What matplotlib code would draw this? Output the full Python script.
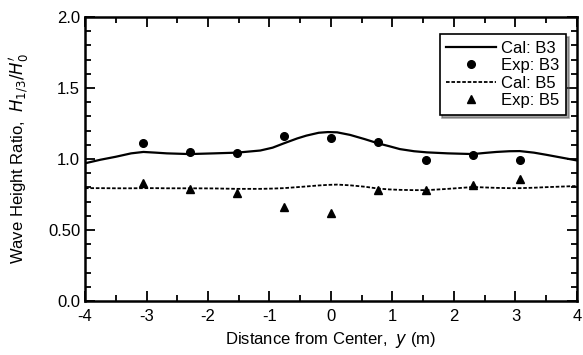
import numpy as np
import matplotlib.pyplot as plt
from matplotlib.ticker import MultipleLocator

plt.rcParams['font.family'] = ['Liberation Sans', 'DejaVu Sans']

# measured points
exp_y = [-3.05, -2.3, -1.53, -0.77, 0.0, 0.76, 1.54, 2.31, 3.07]
exp_b3 = [1.11, 1.05, 1.04, 1.16, 1.15, 1.12, 0.99, 1.03, 0.99]
exp_b5 = [0.83, 0.79, 0.76, 0.66, 0.62, 0.78, 0.78, 0.82, 0.86]

# calculated curves
cal_y = [-4.0, -3.75, -3.5, -3.25, -3.05, -2.85, -2.67, -2.3, -1.9, -1.53, -1.15,
         -0.95, -0.77, -0.55, -0.4, -0.2, -0.05, 0.1, 0.31, 0.55, 0.77, 0.95,
         1.12, 1.35, 1.56, 1.9, 2.31, 2.5, 2.69, 2.9, 3.07, 3.3, 3.5, 3.75, 4.0]
cal_b3 = [0.97, 0.995, 1.016, 1.04, 1.05, 1.045, 1.04, 1.035, 1.04, 1.045, 1.06,
          1.08, 1.11, 1.145, 1.165, 1.185, 1.19, 1.188, 1.17, 1.14, 1.11, 1.09,
          1.07, 1.055, 1.047, 1.04, 1.035, 1.043, 1.05, 1.055, 1.056, 1.045, 1.03, 1.01, 0.99]
cal_b5 = [0.795, 0.795, 0.794, 0.794, 0.795, 0.795, 0.794, 0.794, 0.793, 0.79, 0.79,
          0.792, 0.795, 0.802, 0.807, 0.814, 0.818, 0.82, 0.815, 0.805, 0.792, 0.786,
          0.783, 0.781, 0.781, 0.79, 0.803, 0.8, 0.797, 0.795, 0.795, 0.798, 0.802, 0.806, 0.81]

fig = plt.figure(figsize=(5.83, 3.55), dpi=100)
ax = fig.add_axes([0.1458, 0.152, 0.8439, 0.80])

ax.plot(cal_y, cal_b3, color='black', linewidth=1.6, label='Cal: B3')
ax.plot(exp_y, exp_b3, 'o', color='black', markersize=5.5, label='Exp: B3')
ax.plot(cal_y, cal_b5, color='black', linewidth=1.3, linestyle=(0, (2, 1)), label='Cal: B5')
ax.plot(exp_y, exp_b5, '^', color='black', markersize=6, label='Exp: B5')

ax.set_xlim(-4, 4)
ax.set_ylim(0, 2.0)
ax.set_xticks([-4, -3, -2, -1, 0, 1, 2, 3, 4])
ax.set_xticklabels(['-4', '-3', '-2', '-1', '0', '1', '2', '3', '4'])
ax.set_yticks([0, 0.5, 1.0, 1.5, 2.0])
ax.set_yticklabels(['0.0', '0.50', '1.0', '1.5', '2.0'])
ax.xaxis.set_minor_locator(MultipleLocator(0.5))
ax.yaxis.set_minor_locator(MultipleLocator(0.1))
ax.tick_params(which='both', direction='in', top=True, right=True, width=1.3,
               labelsize=12, colors='black')
ax.tick_params(which='major', length=7)
ax.tick_params(which='minor', length=4)
ax.tick_params(axis='x', pad=6)
for sp in ax.spines.values():
    sp.set_linewidth(1.8)

ax.set_xlabel(r'Distance from Center,  $y$ (m)', fontsize=12)
ax.set_ylabel(r"Wave Height Ratio,  $H_{1/3}/H_0'$", fontsize=12, labelpad=12)

leg = ax.legend(loc='upper right', fancybox=False, shadow=True, fontsize=12,
                handlelength=3.0, handletextpad=0.3, borderpad=0.4,
                labelspacing=0.15, bbox_to_anchor=(0.995, 0.97))
leg.get_frame().set_edgecolor('black')
leg.get_frame().set_linewidth(1.2)
leg.get_frame().set_alpha(1)

fig.savefig('out.png', dpi=100)
